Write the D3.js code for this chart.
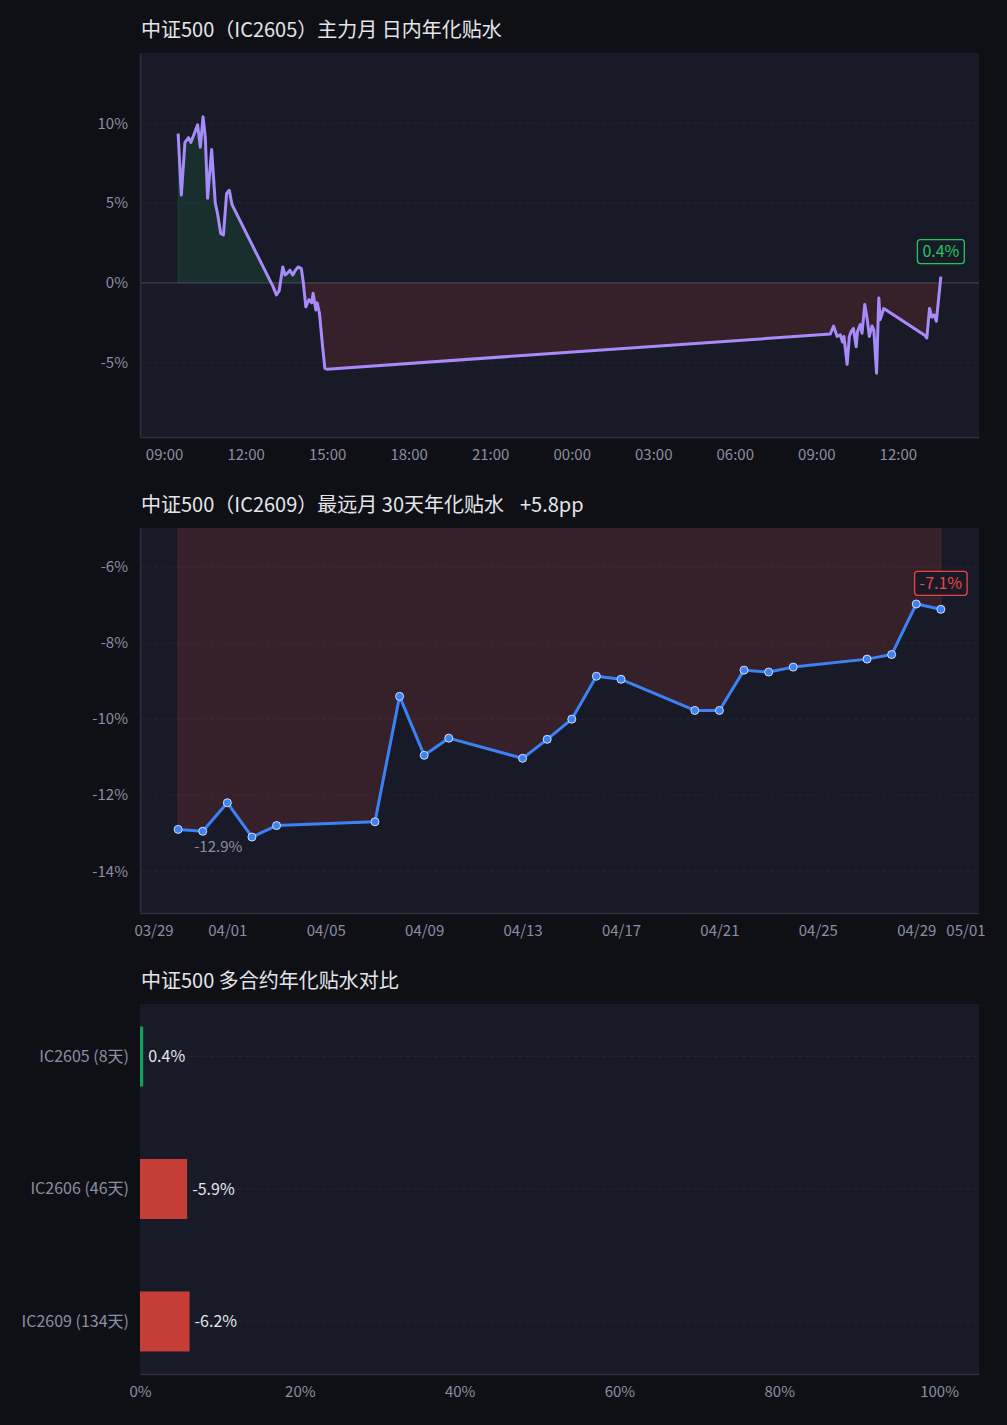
<!DOCTYPE html>
<html>
<head>
<meta charset="utf-8">
<script src="https://cdn.jsdelivr.net/npm/d3@7"></script>
<style>
  body { margin: 0; background: #0f1015; }
  svg { display: block; font-family: "Noto Sans CJK JP", "Noto Sans CJK SC", sans-serif; }
</style>
</head>
<body>
<div id="chart_area"></div>
<script>
// ---- data ----
// main contract intraday annualised basis (%), two sessions
const intradayTimes = [
  "2026-04-29 09:31", "2026-04-29 09:38", "2026-04-29 09:46", "2026-04-29 09:54", "2026-04-29 09:59",
  "2026-04-29 10:06", "2026-04-29 10:14", "2026-04-29 10:20", "2026-04-29 10:26", "2026-04-29 10:31",
  "2026-04-29 10:36", "2026-04-29 10:45", "2026-04-29 10:53", "2026-04-29 10:58", "2026-04-29 11:05",
  "2026-04-29 11:11", "2026-04-29 11:18", "2026-04-29 11:24", "2026-04-29 11:30", "2026-04-29 13:00",
  "2026-04-29 13:08", "2026-04-29 13:14", "2026-04-29 13:22", "2026-04-29 13:27", "2026-04-29 13:32",
  "2026-04-29 13:38", "2026-04-29 13:44", "2026-04-29 13:50", "2026-04-29 13:56", "2026-04-29 14:03",
  "2026-04-29 14:07", "2026-04-29 14:13", "2026-04-29 14:20", "2026-04-29 14:26", "2026-04-29 14:29",
  "2026-04-29 14:35", "2026-04-29 14:38", "2026-04-29 14:43", "2026-04-29 14:50", "2026-04-29 14:55",
  "2026-04-29 15:00",
  "2026-04-30 09:31", "2026-04-30 09:38", "2026-04-30 09:46", "2026-04-30 09:53", "2026-04-30 09:58",
  "2026-04-30 10:01", "2026-04-30 10:08", "2026-04-30 10:13", "2026-04-30 10:17", "2026-04-30 10:22",
  "2026-04-30 10:28", "2026-04-30 10:31", "2026-04-30 10:37", "2026-04-30 10:41", "2026-04-30 10:47",
  "2026-04-30 10:52", "2026-04-30 10:57", "2026-04-30 11:03", "2026-04-30 11:07", "2026-04-30 11:13",
  "2026-04-30 11:18", "2026-04-30 11:21", "2026-04-30 11:29", "2026-04-30 13:00", "2026-04-30 13:04",
  "2026-04-30 13:10", "2026-04-30 13:15", "2026-04-30 13:20", "2026-04-30 13:25", "2026-04-30 13:35"
];
const intradayValues = [
  9.35, 5.5, 8.8, 9.1, 8.8,
  9.3, 9.9, 8.5, 10.4, 9.1,
  5.3, 8.35, 5.0, 4.35, 3.1,
  3.0, 5.6, 5.8, 4.9, -0.2,
  -0.75, -0.5, 1.0, 0.5, 0.6,
  0.8, 0.5, 0.8, 1.0, 0.9,
  0.1, -1.5, -1.05, -1.25, -0.65,
  -1.7, -1.25, -1.9, -4.0, -5.35,
  -5.4,
  -3.2, -2.7, -3.35, -3.25, -3.7,
  -3.35, -5.1, -3.35, -3.05, -2.85,
  -4.0, -3.05, -2.6, -3.15, -1.35,
  -2.2, -3.35, -2.7, -2.95, -5.65,
  -0.95, -2.3, -1.6, -3.3, -3.45,
  -1.6, -2.15, -2.0, -2.4, 0.4
];

// farthest contract, 30 days daily annualised basis (%)
const dailyDates = [
  "2026-03-30", "2026-03-31", "2026-04-01", "2026-04-02", "2026-04-03",
  "2026-04-07", "2026-04-08", "2026-04-09", "2026-04-10", "2026-04-13",
  "2026-04-14", "2026-04-15", "2026-04-16", "2026-04-17", "2026-04-20",
  "2026-04-21", "2026-04-22", "2026-04-23", "2026-04-24", "2026-04-27",
  "2026-04-28", "2026-04-29", "2026-04-30"
];
const dailyValues = [
  -12.9, -12.95, -12.2, -13.1, -12.8,
  -12.7, -9.4, -10.95, -10.5, -11.03,
  -10.53, -10.0, -8.87, -8.95, -9.77,
  -9.77, -8.71, -8.76, -8.63, -8.42,
  -8.3, -6.97, -7.11
];

// contract comparison
const contracts = ["IC2605 (8天)", "IC2606 (46天)", "IC2609 (134天)"];
const contractValues = [0.4, -5.9, -6.2];
const barTicks = [0, 20, 40, 60, 80, 100];

// ---- styling ----
const C = {
  page: "#0f1015",
  plot: "#181b27",
  grid: "#222532",
  axis: "#2c2f3d",
  tick: "#8a8ea3",
  title: "#e3e5ea",
  green: "#22c55e",
  red: "#ef4444",
  bar_red: "#c53d36",
  bar_green: "#16a05a",
  purple: "#a78bfa",
  blue: "#3b82f6"
};
const FONT = "\"Noto Sans CJK JP\", \"Noto Sans CJK SC\", sans-serif";

const width = 1007, height = 1425;
const left = 140, right = 979;

const svg = d3.select("#chart_area")
  .append("svg")
  .attr("width", width)
  .attr("height", height)
  .attr("viewBox", [0, 0, width, height]);

svg.append("rect").attr("width", width).attr("height", height).attr("fill", C.page);

function padExtent(ext, frac) {
  const span = ext[1] - ext[0];
  return [new Date(+ext[0] - span * frac), new Date(+ext[1] + span * frac)];
}

function addTitle(y, text, extra) {
  const t = svg.append("text")
    .attr("x", left + 1)
    .attr("y", y)
    .attr("fill", C.title)
    .attr("font-size", 20)
    .text(text);
  if (extra) t.append("tspan").attr("dx", 16).text(extra);
}

function addPlotFrame(top, bottom) {
  svg.append("rect")
    .attr("x", left).attr("y", top)
    .attr("width", right - left).attr("height", bottom - top)
    .attr("fill", C.plot);
}

function styleAxis(g, size) {
  g.select(".domain").attr("stroke", C.axis).attr("stroke-width", 1.5);
  g.selectAll(".tick line").remove();
  g.selectAll(".tick text").attr("fill", C.tick).attr("font-size", size || 15)
    .attr("font-family", FONT);
}

function addGrid(y, ticks) {
  svg.append("g").selectAll("line")
    .data(ticks)
    .join("line")
    .attr("x1", left).attr("x2", right)
    .attr("y1", d => y(d)).attr("y2", d => y(d))
    .attr("stroke", C.grid)
    .attr("stroke-dasharray", "4,3");
}

// area between the line and zero, green above / red below
function addSignedArea(id, data, x, y, top, bottom) {
  const y0 = Math.max(top, Math.min(bottom, y(0)));
  const defs = svg.append("defs");
  defs.append("clipPath").attr("id", id + "_pos")
    .append("rect").attr("x", left).attr("y", top).attr("width", right - left).attr("height", y0 - top);
  defs.append("clipPath").attr("id", id + "_neg")
    .append("rect").attr("x", left).attr("y", y0).attr("width", right - left).attr("height", bottom - y0);

  const area = d3.area()
    .x(d => x(d.t))
    .y0(y(0))
    .y1(d => y(d.v));

  svg.append("path").datum(data)
    .attr("clip-path", `url(#${id}_pos)`)
    .attr("d", area)
    .attr("fill", C.green).attr("fill-opacity", 0.12)
    .attr("stroke", C.green).attr("stroke-opacity", 0.15);
  svg.append("path").datum(data)
    .attr("clip-path", `url(#${id}_neg)`)
    .attr("d", area)
    .attr("fill", C.red).attr("fill-opacity", 0.14)
    .attr("stroke", C.red).attr("stroke-opacity", 0.18);
}

function addBadge(px, py, text, color) {
  const g = svg.append("g").attr("transform", `translate(${px},${py})`);
  const label = g.append("text")
    .attr("text-anchor", "middle")
    .attr("dy", "0.35em")
    .attr("fill", color)
    .attr("font-size", 16)
    .text(text);
  const w = label.node().getComputedTextLength() + 10;
  g.insert("rect", "text")
    .attr("x", -w / 2).attr("y", -12)
    .attr("width", w).attr("height", 24)
    .attr("rx", 3)
    .attr("fill", C.plot)
    .attr("stroke", color)
    .attr("stroke-width", 1.3);
}

// ---- chart 1: intraday ----
function drawIntraday() {
  const top = 53, bottom = 437;
  const parse = d3.timeParse("%Y-%m-%d %H:%M");
  const data = intradayTimes.map((t, i) => ({ t: parse(t), v: intradayValues[i] }));

  addTitle(37, "中证500（IC2605）主力月 日内年化贴水");
  addPlotFrame(top, bottom);

  const x = d3.scaleTime()
    .domain(padExtent(d3.extent(data, d => d.t), 0.05))
    .range([left, right]);
  const ext = d3.extent(data, d => d.v);
  const y = d3.scaleLinear()
    .domain([ext[0] - 4, ext[1] + 4])
    .range([bottom, top]);

  const yTicks = y.ticks(5);
  addGrid(y, yTicks.filter(d => d !== 0));
  addSignedArea("intra", data, x, y, top, bottom);

  svg.append("line")
    .attr("x1", left).attr("x2", right)
    .attr("y1", y(0)).attr("y2", y(0))
    .attr("stroke", "#4d4653");

  svg.append("path").datum(data)
    .attr("fill", "none")
    .attr("stroke", C.purple)
    .attr("stroke-width", 3)
    .attr("stroke-linejoin", "round")
    .attr("d", d3.line().x(d => x(d.t)).y(d => y(d.v)));

  svg.append("g")
    .attr("transform", `translate(0,${bottom})`)
    .call(d3.axisBottom(x).ticks(d3.timeHour.every(3)).tickFormat(d3.timeFormat("%H:%M"))
      .tickSize(0).tickPadding(12))
    .call(styleAxis);
  svg.append("g")
    .attr("transform", `translate(${left},0)`)
    .call(d3.axisLeft(y).tickValues(yTicks).tickFormat(d => d + "%").tickSize(0).tickPadding(12))
    .call(styleAxis);

  const last = data[data.length - 1];
  addBadge(x(last.t), y(last.v) - 25, last.v.toFixed(1) + "%", C.green);
}

// ---- chart 2: 30 day ----
function drawDaily() {
  const top = 528, bottom = 913;
  const parse = d3.timeParse("%Y-%m-%d");
  const data = dailyDates.map((t, i) => ({ t: parse(t), v: dailyValues[i] }));
  const first = data[0], last = data[data.length - 1];
  const change = last.v - first.v;

  addTitle(512, "中证500（IC2609）最远月 30天年化贴水", (change >= 0 ? "+" : "") + change.toFixed(1) + "pp");
  addPlotFrame(top, bottom);

  const x = d3.scaleTime()
    .domain(padExtent(d3.extent(data, d => d.t), 0.05))
    .range([left, right]);
  const ext = d3.extent(data, d => d.v);
  const y = d3.scaleLinear()
    .domain([ext[0] - 2, ext[1] + 2])
    .range([bottom, top]);

  const yTicks = y.ticks(5);
  addGrid(y, yTicks);
  addSignedArea("daily", data, x, y, top, bottom);

  svg.append("path").datum(data)
    .attr("fill", "none")
    .attr("stroke", C.blue)
    .attr("stroke-width", 3)
    .attr("stroke-linejoin", "round")
    .attr("d", d3.line().x(d => x(d.t)).y(d => y(d.v)));

  svg.append("g").selectAll("circle")
    .data(data)
    .join("circle")
    .attr("cx", d => x(d.t))
    .attr("cy", d => y(d.v))
    .attr("r", 4)
    .attr("fill", C.blue)
    .attr("stroke", "#d6ddf0")
    .attr("stroke-width", 1);

  svg.append("g")
    .attr("transform", `translate(0,${bottom})`)
    .call(d3.axisBottom(x).ticks(d3.timeDay.every(4)).tickFormat(d3.timeFormat("%m/%d"))
      .tickSize(0).tickPadding(12))
    .call(styleAxis);
  svg.append("g")
    .attr("transform", `translate(${left},0)`)
    .call(d3.axisLeft(y).tickValues(yTicks).tickFormat(d => d + "%").tickSize(0).tickPadding(12))
    .call(styleAxis);

  svg.append("text")
    .attr("x", x(first.t) + 16)
    .attr("y", y(first.v) + 23)
    .attr("fill", C.tick)
    .attr("font-size", 15)
    .text(first.v.toFixed(1) + "%");

  addBadge(x(last.t), y(last.v) - 26, last.v.toFixed(1) + "%", C.red);
}

// ---- chart 3: contract comparison ----
function drawBars() {
  const top = 1004, bottom = 1374;
  addTitle(988, "中证500 多合约年化贴水对比");
  addPlotFrame(top, bottom);

  const x = d3.scaleLinear().domain([0, 105]).range([left, right]);
  const y = d3.scaleBand()
    .domain(contracts)
    .range([top, bottom])
    .paddingInner(0.547)
    .paddingOuter(0.17);

  svg.append("g").selectAll("line")
    .data(contracts)
    .join("line")
    .attr("x1", left).attr("x2", right)
    .attr("y1", d => y(d) + y.bandwidth() / 2)
    .attr("y2", d => y(d) + y.bandwidth() / 2)
    .attr("stroke", C.grid)
    .attr("stroke-dasharray", "4,3");

  const rows = contracts.map((c, i) => ({ c: c, v: contractValues[i] }));

  svg.append("g").selectAll("rect")
    .data(rows)
    .join("rect")
    .attr("x", x(0))
    .attr("y", d => y(d.c))
    .attr("width", d => x(Math.abs(d.v)) - x(0))
    .attr("height", y.bandwidth())
    .attr("fill", d => d.v >= 0 ? C.bar_green : C.bar_red);

  svg.append("g").selectAll("text")
    .data(rows)
    .join("text")
    .attr("x", d => x(Math.abs(d.v)) + 5)
    .attr("y", d => y(d.c) + y.bandwidth() / 2)
    .attr("dy", "0.35em")
    .attr("fill", C.title)
    .attr("font-size", 16)
    .text(d => d.v.toFixed(1) + "%");

  svg.append("g")
    .attr("transform", `translate(0,${bottom})`)
    .call(d3.axisBottom(x).tickValues(barTicks).tickFormat(d => d + "%").tickSize(0).tickPadding(12))
    .call(styleAxis);
  svg.append("g")
    .attr("transform", `translate(${left},0)`)
    .call(d3.axisLeft(y).tickSize(0).tickPadding(11))
    .call(g => styleAxis(g, 16))
    .call(g => g.select(".domain").remove());
}

drawIntraday();
drawDaily();
drawBars();
</script>
</body>
</html>
